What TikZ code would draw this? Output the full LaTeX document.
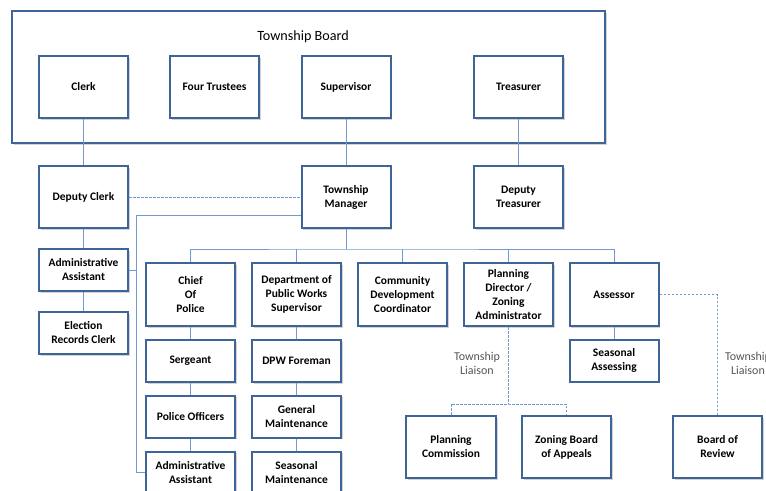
\documentclass[tikz,border=0pt]{standalone}
\usepackage{fontspec}
\setmainfont{Carlito}
\usetikzlibrary{shadows}

\definecolor{boxedge}{HTML}{3F6497}
\definecolor{linkblue}{HTML}{729AD0}
\definecolor{notegray}{HTML}{555555}

\tikzset{
    post/.style={draw=boxedge, line width=1.5pt, fill=white, align=center,
        minimum width=66.75pt, minimum height=46.5pt, inner sep=1pt,
        font=\bfseries\fontsize{8.6}{10.5}\selectfont,
        drop shadow={shadow xshift=1.2pt, shadow yshift=-1.2pt, opacity=0.35}},
    smallpost/.style={post, minimum height=31.5pt},
    link/.style={draw=linkblue, line width=0.7pt},
    liaison/.style={link, dashed, dash pattern=on 2pt off 1pt},
    note/.style={text=notegray, align=center, font=\fontsize{9}{10.5}\selectfont}
}

\begin{document}
\begin{tikzpicture}[x=0.75pt, y=-0.75pt]
    \useasboundingbox (0,0) rectangle (766,491);

    % township board
    \draw[boxedge, line width=1.5pt, fill=white,
        drop shadow={shadow xshift=1.2pt, shadow yshift=-1.2pt, opacity=0.35}]
        (12,11) rectangle (605,143);
    \node[font=\fontsize{10.6}{12}\selectfont] (boardtitle) at (303,37) {Township Board};
    \node[post] (clerk) at (83.5,87) {Clerk};
    \node[post] (trustees) at (214.5,87) {Four Trustees};
    \node[post] (supervisor) at (346,87) {Supervisor};
    \node[post] (treasurer) at (518.5,87) {Treasurer};

    % second row
    \node[post] (dclerk) at (83.5,197) {Deputy Clerk};
    \node[post] (manager) at (346,197) {Township\\Manager};
    \node[post] (dtreasurer) at (518.5,197) {Deputy\\Treasurer};

    % clerk staff
    \node[smallpost] (adminclerk) at (83.5,270) {Administrative\\Assistant};
    \node[smallpost] (election) at (83.5,333) {Election\\Records Clerk};

    % departments
    \foreach \x/\name/\desc in {190.5/chief/{Chief\\Of\\Police},
            296.5/dpw/{Department of\\Public Works\\Supervisor},
            402.5/cdc/{Community\\Development\\Coordinator},
            508.5/planning/{Planning\\Director /\\Zoning\\Administrator},
            614/assessor/{Assessor}} {
        \node[post, minimum height=47.25pt] (\name) at (\x,294.5) {\desc};
    }

    % police and public works
    \node[smallpost] (sergeant) at (190.5,361) {Sergeant};
    \node[smallpost] (officers) at (190.5,416.5) {Police Officers};
    \node[smallpost] (adminpolice) at (190.5,472.5) {Administrative\\Assistant};
    \node[smallpost] (foreman) at (296.5,361) {DPW Foreman};
    \node[smallpost] (general) at (296.5,416.5) {General\\Maintenance};
    \node[smallpost] (seasonal) at (296.5,472.5) {Seasonal\\Maintenance};
    \node[smallpost] (assessing) at (614,360.5) {Seasonal\\Assessing};

    % boards and commissions
    \node[post, minimum width=67.5pt] (commission) at (451,447) {Planning\\Commission};
    \node[post] (appeals) at (566.5,447) {Zoning Board\\of Appeals};
    \node[post] (review) at (717.5,447) {Board of\\Review};

    \node[note] (liaisonA) at (477,363) {Township\\Liaison};
    \node[note] (liaisonB) at (748,363) {Township\\Liaison};

    % connectors
    \coordinate (spine) at (136,215);
    \coordinate (bus) at (346,249);
    \coordinate (planbus) at (508.5,404);

    \draw[link] (clerk) -- (dclerk);
    \draw[link] (supervisor) -- (manager);
    \draw[link] (treasurer) -- (dtreasurer);
    \draw[link] (dclerk) -- (adminclerk);
    \draw[link] (adminclerk) -- (election);
    \draw[liaison] (dclerk.east) -- (dclerk.east -| manager.west);
    \draw[link] (spine -| manager.west) -- (spine) |- (adminpolice.west);
    \draw[link] (adminclerk.east) -- (adminclerk.east -| spine);
    \draw[link] (manager.south) -- (bus);
    \draw[link] (chief.north) |- (bus) -| (assessor.north);
    \foreach \name in {dpw, cdc, planning} {
        \draw[link] (\name.north) -- (\name.north |- bus);
    }
    \draw[link] (chief) -- (sergeant);
    \draw[link] (sergeant) -- (officers);
    \draw[link] (officers) -- (adminpolice);
    \draw[link] (dpw) -- (foreman);
    \draw[link] (foreman) -- (general);
    \draw[link] (general) -- (seasonal);
    \draw[link] (assessor) -- (assessing);
    \draw[liaison] (planning.south) -- (planbus);
    \draw[liaison] (commission.north) |- (planbus) -| (appeals.north);
    \draw[liaison] (assessor.east) -| (review.north);
\end{tikzpicture}
\end{document}
